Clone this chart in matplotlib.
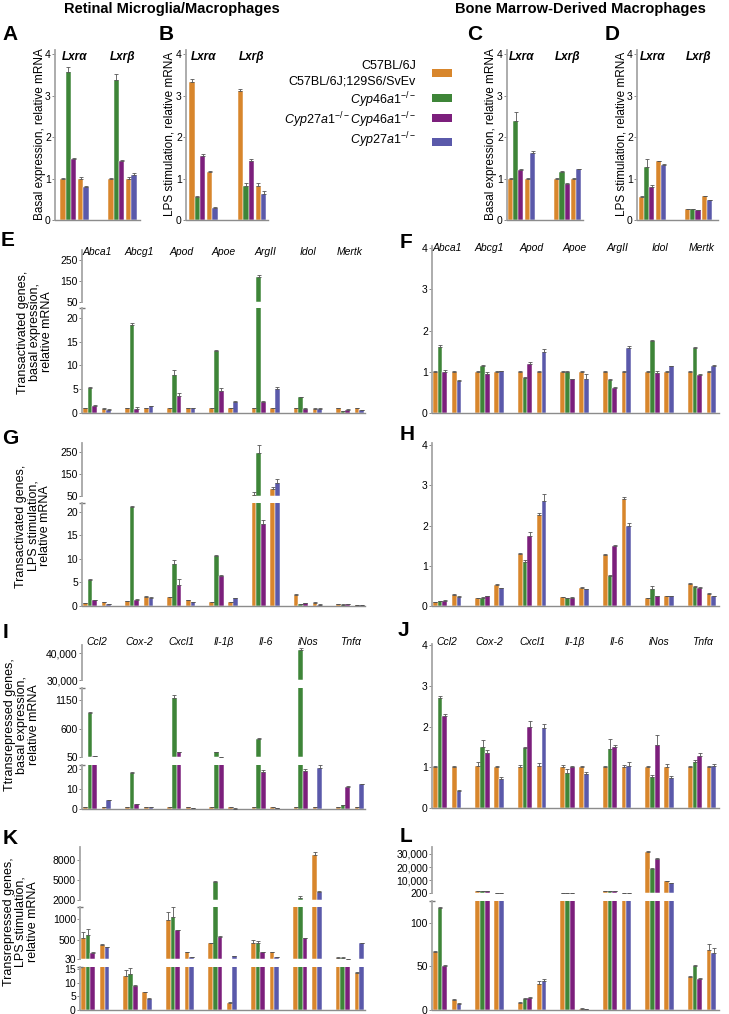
"""Grouped bar panels (A-L) for Lxr target gene expression in microglia and BMDMs."""

import matplotlib
matplotlib.use("Agg")
import matplotlib.pyplot as plt
import matplotlib.transforms as mtransforms
from matplotlib.patches import Rectangle
import numpy as np


FIG_W, FIG_H = 729, 1014

plt.rcParams["font.family"] = ["Liberation Sans", "DejaVu Sans"]
plt.rcParams["mathtext.fontset"] = "custom"
plt.rcParams["mathtext.rm"] = "Liberation Sans"
plt.rcParams["mathtext.it"] = "Liberation Sans:italic"
plt.rcParams["mathtext.bf"] = "Liberation Sans:bold"

# bar order inside each gene: WT (B6), Cyp46a1-/-, DKO, WT (mixed), Cyp27a1-/-
BAR_COLORS = ["#D8862C", "#3E8538", "#7C1F7C", "#D8862C", "#5A59AA"]
ERR_COLOR = "#555555"
SPINE_COLOR = "#A6A6A6"

LXR_GENES = ["Lxrα", "Lxrβ"]
TRANSACT_GENES = ["Abca1", "Abcg1", "Apod", "Apoe", "ArgII", "Idol", "Mertk"]
TRANSREP_GENES = ["Ccl2", "Cox-2", "Cxcl1", "Il-1β", "Il-6", "iNos", "Tnfα"]

# --- A-D: Lxr expression ---------------------------------------------------
A_vals = [[1.0, 3.57, 1.47, 1.0, 0.80], [1.0, 3.38, 1.42, 1.0, 1.08]]
A_errs = [[0.02, 0.13, 0.02, 0.03, 0.03], [0.02, 0.14, 0.02, 0.04, 0.05]]
B_vals = [[3.33, 0.55, 1.55, 1.15, 0.30], [3.10, 0.82, 1.42, 0.82, 0.63]]
B_errs = [[0.08, 0.02, 0.03, 0.02, 0.02], [0.05, 0.08, 0.04, 0.08, 0.07]]
C_vals = [[1.0, 2.38, 1.20, 1.0, 1.61], [1.0, 1.15, 0.87, 1.0, 1.22]]
C_errs = [[0.01, 0.22, 0.03, 0.01, 0.06], [0.01, 0.03, 0.02, 0.01, 0.01]]
D_vals = [[0.55, 1.27, 0.80, 1.42, 1.33], [0.26, 0.26, 0.24, 0.58, 0.48]]
D_errs = [[0.02, 0.20, 0.05, 0.01, 0.02], [0.01, 0.01, 0.01, 0.01, 0.01]]

# --- E-H: transactivated genes ---------------------------------------------
E_vals = [
	[1.0, 5.3, 1.5, 0.9, 0.7],
	[1.0, 18.5, 0.9, 1.0, 1.4],
	[1.0, 8.0, 3.5, 1.0, 1.0],
	[1.0, 13.0, 4.6, 1.0, 2.4],
	[1.0, 170.0, 2.4, 1.0, 5.0],
	[1.0, 3.3, 0.9, 0.9, 0.9],
	[1.0, 0.4, 0.7, 1.0, 0.6],
]
E_errs = [
	[0.05, 0.2, 0.1, 0.05, 0.05],
	[0.05, 0.5, 0.3, 0.05, 0.05],
	[0.05, 1.0, 0.7, 0.05, 0.1],
	[0.05, 0.3, 0.6, 0.05, 0.05],
	[0.05, 6.0, 0.1, 0.05, 0.5],
	[0.05, 0.1, 0.05, 0.05, 0.05],
	[0.05, 0.05, 0.05, 0.05, 0.05],
]
F_vals = [
	[1.0, 1.60, 1.00, 1.0, 0.78],
	[1.0, 1.15, 0.95, 1.0, 1.02],
	[1.0, 0.85, 1.18, 1.0, 1.48],
	[1.0, 1.00, 0.82, 1.0, 0.82],
	[1.0, 0.80, 0.60, 1.0, 1.57],
	[1.0, 1.75, 0.98, 1.0, 1.13],
	[1.0, 1.57, 0.93, 1.0, 1.15],
]
F_errs = [
	[0.01, 0.05, 0.05, 0.01, 0.01],
	[0.01, 0.02, 0.05, 0.01, 0.01],
	[0.01, 0.03, 0.05, 0.01, 0.08],
	[0.01, 0.01, 0.01, 0.01, 0.12],
	[0.01, 0.02, 0.03, 0.01, 0.05],
	[0.01, 0.02, 0.03, 0.01, 0.01],
	[0.01, 0.02, 0.01, 0.01, 0.02],
]
G_vals = [
	[0.6, 5.6, 1.2, 0.8, 0.4],
	[1.0, 21.0, 1.2, 2.0, 1.8],
	[1.9, 9.0, 4.5, 1.2, 0.9],
	[0.8, 10.7, 6.4, 0.8, 1.6],
	[55.0, 245.0, 17.5, 80.0, 110.0],
	[2.4, 0.4, 0.6, 0.7, 0.3],
	[0.4, 0.3, 0.4, 0.2, 0.2],
]
G_errs = [
	[0.05, 0.2, 0.1, 0.05, 0.05],
	[0.1, 0.3, 0.3, 0.1, 0.05],
	[0.1, 0.8, 1.2, 0.1, 0.05],
	[0.05, 0.2, 0.1, 0.05, 0.1],
	[12.0, 35.0, 0.7, 12.0, 15.0],
	[0.1, 0.05, 0.05, 0.05, 0.05],
	[0.05, 0.05, 0.05, 0.05, 0.05],
]
H_vals = [
	[0.10, 0.12, 0.13, 0.28, 0.23],
	[0.20, 0.21, 0.25, 0.53, 0.44],
	[1.28, 1.10, 1.75, 2.25, 2.60],
	[0.22, 0.20, 0.21, 0.45, 0.42],
	[1.27, 0.75, 1.50, 2.65, 1.98],
	[0.20, 0.43, 0.25, 0.24, 0.25],
	[0.55, 0.47, 0.45, 0.30, 0.24],
]
H_errs = [
	[0.01, 0.01, 0.01, 0.01, 0.01],
	[0.01, 0.01, 0.01, 0.01, 0.01],
	[0.04, 0.05, 0.10, 0.06, 0.18],
	[0.01, 0.01, 0.01, 0.02, 0.01],
	[0.01, 0.03, 0.01, 0.05, 0.07],
	[0.01, 0.07, 0.01, 0.01, 0.01],
	[0.03, 0.03, 0.01, 0.03, 0.02],
]

# --- I-L: transrepressed genes ---------------------------------------------
I_vals = [
	[1.0, 900.0, 60.0, 1.0, 4.5],
	[1.0, 18.0, 2.3, 1.0, 1.0],
	[1.0, 1200.0, 150.0, 1.0, 0.6],
	[0.8, 150.0, 55.0, 1.0, 0.2],
	[1.0, 400.0, 18.5, 0.8, 0.5],
	[1.0, 41000.0, 19.0, 1.0, 20.5],
	[1.0, 1.8, 11.0, 1.0, 12.5],
]
I_errs = [
	[0.1, 20.0, 2.0, 0.1, 0.2],
	[0.1, 0.6, 0.2, 0.1, 0.1],
	[0.1, 50.0, 5.0, 0.1, 0.1],
	[0.1, 5.0, 2.0, 0.1, 0.1],
	[0.1, 10.0, 0.8, 0.1, 0.1],
	[0.1, 800.0, 1.0, 0.1, 1.5],
	[0.1, 0.2, 0.5, 0.1, 0.2],
]
J_vals = [
	[1.0, 2.70, 2.25, 1.0, 0.42],
	[1.02, 1.50, 1.35, 1.0, 0.72],
	[1.0, 1.48, 1.98, 1.02, 1.96],
	[1.0, 0.85, 1.0, 1.0, 0.83],
	[1.0, 1.45, 1.50, 1.0, 1.02],
	[1.0, 0.75, 1.55, 1.0, 0.74],
	[1.0, 1.13, 1.28, 1.0, 1.03],
]
J_errs = [
	[0.03, 0.05, 0.06, 0.02, 0.02],
	[0.10, 0.18, 0.08, 0.03, 0.03],
	[0.05, 0.03, 0.15, 0.08, 0.10],
	[0.05, 0.10, 0.03, 0.03, 0.05],
	[0.02, 0.25, 0.05, 0.05, 0.12],
	[0.02, 0.05, 0.25, 0.08, 0.04],
	[0.02, 0.05, 0.07, 0.02, 0.05],
]
K_vals = [
	[540.0, 610.0, 185.0, 375.0, 320.0],
	[12.5, 13.0, 8.7, 6.5, 4.0],
	[975.0, 1040.0, 725.0, 205.0, 70.0],
	[420.0, 4700.0, 570.0, 2.5, 100.0],
	[420.0, 410.0, 200.0, 205.0, 70.0],
	[1600.0, 2350.0, 540.0, 8750.0, 3200.0],
	[60.0, 58.0, 31.0, 13.5, 420.0],
]
K_errs = [
	[150.0, 150.0, 5.0, 10.0, 10.0],
	[2.0, 2.5, 0.3, 0.2, 0.2],
	[200.0, 250.0, 10.0, 5.0, 5.0],
	[5.0, 200.0, 10.0, 0.3, 5.0],
	[60.0, 60.0, 5.0, 5.0, 5.0],
	[0.0, 300.0, 10.0, 500.0, 200.0],
	[10.0, 15.0, 2.0, 0.5, 5.0],
]
L_vals = [
	[66.0, 117.0, 51.0, 11.5, 7.0],
	[1700.0, 1700.0, 1700.0, 400.0, 400.0],
	[8.5, 13.0, 14.0, 30.0, 33.0],
	[300.0, 300.0, 300.0, 1.5, 1.0],
	[1900.0, 1700.0, 1800.0, 400.0, 400.0],
	[31500.0, 18500.0, 26000.0, 9000.0, 7500.0],
	[38.0, 51.0, 36.0, 69.0, 65.0],
]
L_errs = [
	[1.5, 1.0, 1.0, 1.0, 0.5],
	[200.0, 200.0, 200.0, 50.0, 50.0],
	[0.5, 0.8, 0.8, 3.0, 2.0],
	[10.0, 10.0, 10.0, 0.3, 0.2],
	[200.0, 200.0, 200.0, 50.0, 50.0],
	[800.0, 600.0, 800.0, 500.0, 300.0],
	[1.0, 1.0, 1.0, 7.0, 6.0],
]

GROUP_SPACING = 9.0
LXR_OFFSETS = [0.0, 1.0, 2.0, 3.3, 4.3]
GENE_OFFSETS = [0.0, 1.0, 2.0, 4.0, 5.0]
UNIT_TICKS = ([0, 1, 2, 3, 4], ["0", "1", "2", "3", "4"])


def fx(px):
	return px / FIG_W


def fy(py):
	return 1.0 - py / FIG_H


def add_axes_px(fig, left, right, top, bottom):
	return fig.add_axes([fx(left), fy(bottom), (right - left) / FIG_W, (bottom - top) / FIG_H])


def draw_panel(fig, values, errors, left, right, xlim, segments, offsets):
	"""Draw one (possibly broken) bar panel; segments listed top to bottom."""

	values = np.asarray(values, dtype=float)
	errors = np.asarray(errors, dtype=float)
	n_genes = values.shape[0]
	group_x = np.arange(n_genes) * GROUP_SPACING
	axes = []
	for k, (top, bottom, ylim, ticks, labels) in enumerate(segments):
		ax = add_axes_px(fig, left, right, top, bottom)
		ax.patch.set_visible(False)
		# bars start at the segment floor so nothing leaks below a break
		floor = max(0.0, ylim[0])
		for j, color in enumerate(BAR_COLORS):
			x = group_x + offsets[j]
			v = values[:, j]
			show = v > floor
			if not np.any(show):
				continue
			ax.bar(x[show], v[show] - floor, bottom=floor, width=1.0, align="edge",
				color=color, edgecolor="white", linewidth=0.35, zorder=2)
			ax.errorbar(x[show] + 0.5, v[show],
				yerr=[np.zeros(int(show.sum())), errors[show, j]],
				fmt="none", ecolor=ERR_COLOR, elinewidth=0.6, capsize=1.1,
				capthick=0.6, zorder=3)
		ax.set_xlim(*xlim)
		ax.set_ylim(*ylim)
		ax.set_yticks(ticks)
		ax.set_yticklabels(labels)
		ax.set_xticks([])
		ax.tick_params(axis="y", length=2, width=0.6, color="#777777",
			labelsize=7.5, pad=1)
		for side in ("top", "right"):
			ax.spines[side].set_visible(False)
		ax.spines["left"].set_color(SPINE_COLOR)
		ax.spines["left"].set_linewidth(1.3)
		ax.spines["bottom"].set_color("#8C8C8C")
		ax.spines["bottom"].set_linewidth(1.0)
		is_last = k == len(segments) - 1
		ax.spines["bottom"].set_visible(is_last)
		if k > 0:
			# short cap on the spine where the axis is broken
			ax.plot([0], [1], marker="_", markersize=5, color="#777777",
				transform=ax.transAxes, clip_on=False)
		axes.append(ax)
	return axes, group_x


def gene_labels(fig, ax, group_x, genes, y_px, center, **kw):
	trans = mtransforms.blended_transform_factory(ax.transData, fig.transFigure)
	for x0, gene in zip(group_x, genes):
		ax.text(x0 + center, fy(y_px), gene, transform=trans, ha="center",
			va="center", clip_on=False, **kw)


def main():
	fig = plt.figure(figsize=(FIG_W / 100, FIG_H / 100), dpi=100)

	# column titles and panel letters
	fig.text(fx(172), fy(9), "Retinal Microglia/Macrophages", ha="center",
		va="center", fontsize=10.5, weight="bold")
	fig.text(fx(580), fy(9), "Bone Marrow-Derived Macrophages", ha="center",
		va="center", fontsize=10.5, weight="bold")
	letters = [("A", 10, 35), ("B", 166, 35), ("C", 475, 34), ("D", 612, 34),
		("E", 8, 240), ("F", 406, 243), ("G", 10, 438), ("H", 407, 434),
		("I", 5, 632), ("J", 403, 630), ("K", 10, 838), ("L", 406, 836)]
	for letter, x, y in letters:
		fig.text(fx(x), fy(y), letter, ha="center", va="center", fontsize=15,
			weight="bold")

	# A-D
	lxr_seg = [(50, 220, (0, 4.1)) + UNIT_TICKS]
	lxr_panels = [
		(A_vals, A_errs, 55, 140, (-1.0, 14.9), "Basal expression, relative mRNA", 40),
		(B_vals, B_errs, 186, 268, (-0.6, 14.6), "LPS stimulation, relative mRNA", 170),
		(C_vals, C_errs, 507, 583, (-0.2, 14.6), "Basal expression, relative mRNA", 491),
		(D_vals, D_errs, 637, 718, (-0.4, 15.4), "LPS stimulation, relative mRNA", 621),
	]
	for vals, errs, left, right, xlim, ylabel, ylab_x in lxr_panels:
		axes, gx = draw_panel(fig, vals, errs, left, right, xlim, lxr_seg, LXR_OFFSETS)
		gene_labels(fig, axes[0], gx, LXR_GENES, 57, 2.6, fontsize=8.5,
			weight="bold", style="italic")
		fig.text(fx(ylab_x), fy(134), ylabel, rotation=90, ha="center",
			va="center", fontsize=8.5)

	# legend
	legend_rows = [
		("C57BL/6J", 66, None),
		("C57BL/6J;129S6/SvEv", 82, BAR_COLORS[0]),
		(r"$\mathit{Cyp46a1}^{-/-}$", 100, BAR_COLORS[1]),
		(r"$\mathit{Cyp27a1}^{-/-}\mathit{Cyp46a1}^{-/-}$", 120, BAR_COLORS[2]),
		(r"$\mathit{Cyp27a1}^{-/-}$", 140, BAR_COLORS[4]),
	]
	patch_y = [None, 73, 98, 118, 142]
	for (label, y, color), py in zip(legend_rows, patch_y):
		fig.text(fx(416), fy(y), label, ha="right", va="center", fontsize=9)
		if color is not None:
			fig.add_artist(Rectangle((fx(432), fy(py + 3.5)), 20 / FIG_W, 7 / FIG_H,
				transform=fig.transFigure, facecolor=color, edgecolor="none"))

	left_col = (82, 365, (-0.2, 60.2))
	right_col = (432, 719, (-0.2, 60.6))

	# E / G: transactivated genes, microglia (broken axis)
	e_seg = [
		(250, 302, (50, 297), [50, 150, 250], ["50", "150", "250"]),
		(308, 413, (0, 22.1), [0, 5, 10, 15, 20], ["0", "5", "10", "15", "20"]),
	]
	axes, gx = draw_panel(fig, E_vals, E_errs, *left_col, e_seg, GENE_OFFSETS)
	gene_labels(fig, axes[0], gx, TRANSACT_GENES, 252, 3.0, fontsize=7.5, style="italic")
	fig.text(fx(35), fy(332), "Transactivated genes,\nbasal expression,\nrelative mRNA",
		rotation=90, ha="center", va="center", fontsize=9, linespacing=1.0)

	f_seg = [(246, 413, (0, 4.05)) + UNIT_TICKS]
	axes, gx = draw_panel(fig, F_vals, F_errs, *right_col, f_seg, GENE_OFFSETS)
	gene_labels(fig, axes[0], gx, TRANSACT_GENES, 248, 3.0, fontsize=7.5, style="italic")

	g_seg = [
		(443, 496, (50, 290), [50, 150, 250], ["50", "150", "250"]),
		(503, 606, (0, 21.9), [0, 5, 10, 15, 20], ["0", "5", "10", "15", "20"]),
	]
	draw_panel(fig, G_vals, G_errs, *left_col, g_seg, GENE_OFFSETS)
	fig.text(fx(33), fy(526), "Transactivated genes,\nLPS stimulation,\nrelative mRNA",
		rotation=90, ha="center", va="center", fontsize=9, linespacing=1.0)

	h_seg = [(443, 606, (0, 4.05)) + UNIT_TICKS]
	draw_panel(fig, H_vals, H_errs, *right_col, h_seg, GENE_OFFSETS)

	# I / J: transrepressed genes, basal
	i_seg = [
		(645, 680, (30000, 43000), [30000, 40000], ["30,000", "40,000"]),
		(688, 757, (50, 1385), [50, 600, 1150], ["50", "600", "1150"]),
		(765, 809, (0, 22), [0, 10, 20], ["0", "10", "20"]),
	]
	axes, gx = draw_panel(fig, I_vals, I_errs, *left_col, i_seg, GENE_OFFSETS)
	gene_labels(fig, axes[0], gx, TRANSREP_GENES, 642, 3.0, fontsize=7.5, style="italic")
	fig.text(fx(22), fy(725), "Ttransrepressed genes,\nbasal expression,\nrelative mRNA",
		rotation=90, ha="center", va="center", fontsize=9, linespacing=1.0)

	j_seg = [(644, 808, (0, 4.03)) + UNIT_TICKS]
	axes, gx = draw_panel(fig, J_vals, J_errs, *right_col, j_seg, GENE_OFFSETS)
	gene_labels(fig, axes[0], gx, TRANSREP_GENES, 642, 3.0, fontsize=7.5, style="italic")

	# K / L: transrepressed genes, LPS
	k_seg = [
		(847, 900, (2000, 9950), [2000, 5000, 8000], ["2000", "5000", "8000"]),
		(907, 959, (30, 1290), [30, 500, 1000], ["30", "500", "1000"]),
		(967, 1010, (0, 15.7), [0, 5, 10, 15], ["0", "5", "10", "15"]),
	]
	draw_panel(fig, K_vals, K_errs, 80, 365, (-0.2, 60.2), k_seg, GENE_OFFSETS)
	fig.text(fx(21), fy(922), "Transrepressed genes,\nLPS stimulation,\nrelative mRNA",
		rotation=90, ha="center", va="center", fontsize=9, linespacing=1.0)

	l_seg = [
		(847, 893, (200, 35300), [200, 10000, 20000, 30000],
			["200", "10,000", "20,000", "30,000"]),
		(901, 1010, (0, 125), [0, 50, 100], ["0", "50", "100"]),
	]
	draw_panel(fig, L_vals, L_errs, *right_col, l_seg, GENE_OFFSETS)

	fig.savefig("out.png", dpi=100)


if __name__ == "__main__":
	main()
